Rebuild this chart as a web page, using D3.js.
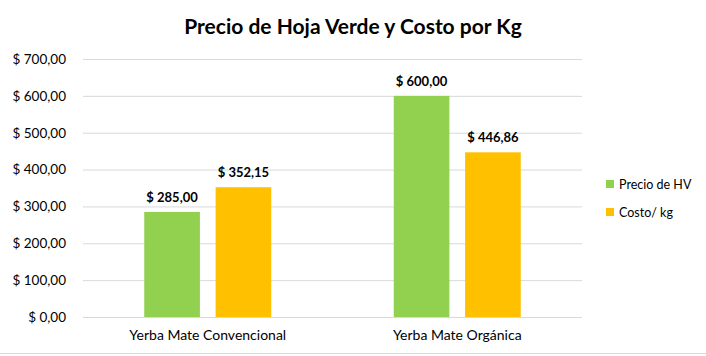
<!DOCTYPE html>
<html><head><meta charset="utf-8">
<script src="https://cdn.jsdelivr.net/npm/d3@7"></script>
<style>body{margin:0;background:#fff}svg{display:block}text{font-family:Lato,"Open Sans",sans-serif}</style>
</head><body>
<svg id="c" width="706" height="356"></svg>
<script>
const categories = ["Yerba Mate Convencional", "Yerba Mate Orgánica"];
const seriesNames = ["Precio de HV", "Costo/ kg"];
const precioHV = [285.00, 600.00];
const costoKg = [352.15, 446.86];
const yTicks = [0, 100, 200, 300, 400, 500, 600, 700];
const colors = ["#92D050", "#FFC000"];
const title = "Precio de Hoja Verde y Costo por Kg";

const seriesValues = [precioHV, costoKg];
const svg = d3.select("#c");
const fmt = v => "$ " + d3.format(",.2f")(v).replace(/,/g, "X").replace(".", ",").replace(/X/g, ".");

const y = d3.scaleLinear().domain([0, 700]).range([317, 59]);
const x0 = d3.scaleBand().domain(categories).range([83, 582]).padding(0);
const grp = 127, off = (x0.bandwidth() - grp) / 2;
const x1 = d3.scaleBand().domain(seriesNames).range([off, off + grp]).paddingInner(0.22).paddingOuter(0);

svg.append("text").attr("x", 353).attr("y", 34).attr("text-anchor", "middle")
  .attr("font-size", 21).attr("font-weight", "bold").attr("fill", "#000").text(title);

// grid
const yAxis = d3.axisLeft(y).tickValues(yTicks).tickSize(-(582 - 83)).tickFormat(fmt);
const ga = svg.append("g").attr("transform", "translate(83,0)").call(yAxis);
ga.select(".domain").remove();
ga.selectAll(".tick line").attr("stroke", "#d9d9d9").attr("stroke-width", 1);
ga.selectAll(".tick text").attr("x", -17).attr("font-size", 13.5).attr("fill", "#000");

// bars
categories.forEach((c, i) => {
  const g = svg.append("g").attr("transform", `translate(${x0(c)},0)`);
  seriesNames.forEach((s, j) => {
    const v = seriesValues[j][i];
    g.append("rect").attr("x", x1(s)).attr("width", x1.bandwidth())
      .attr("y", y(v)).attr("height", y(0) - y(v)).attr("fill", colors[j]);
    g.append("text").attr("x", x1(s) + x1.bandwidth() / 2).attr("y", y(v) - 10)
      .attr("text-anchor", "middle").attr("font-size", 13).attr("font-weight", "bold")
      .attr("fill", "#000").text(fmt(v));
  });
});

// x axis labels
const xAxis = d3.axisBottom(x0).tickSize(0);
const gx = svg.append("g").attr("transform", "translate(0,317)").call(xAxis);
gx.select(".domain").remove();
gx.selectAll(".tick text").attr("dy", 0).attr("y", 23).attr("font-size", 14).attr("fill", "#000");

// legend
seriesNames.forEach((s, j) => {
  const ly = 184 + j * 28;
  svg.append("rect").attr("x", 606).attr("y", ly - 4).attr("width", 8).attr("height", 8).attr("fill", colors[j]);
  svg.append("text").attr("x", 619).attr("y", ly + 4.5).attr("font-size", 12.5).attr("fill", "#000").text(s);
});

// bottom border
svg.append("line").attr("x1", 0).attr("x2", 706).attr("y1", 353.5).attr("y2", 353.5).attr("stroke", "#d9d9d9");
</script>
</body></html>
